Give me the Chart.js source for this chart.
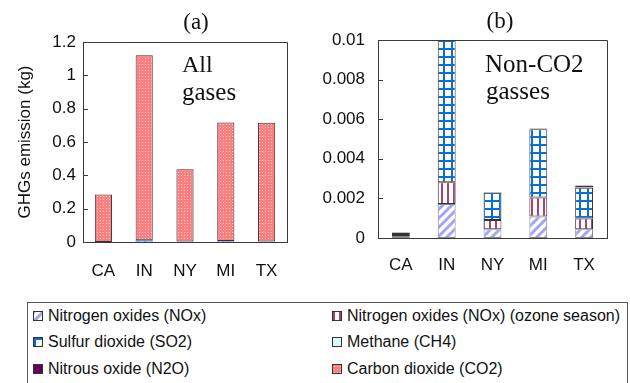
<!DOCTYPE html>
<html>
<head>
<meta charset="utf-8">
<script src="https://cdn.jsdelivr.net/npm/chart.js@4"></script>
<style>
  body { margin: 0; background: #fff; width: 630px; height: 383px; overflow: hidden; position: relative; font-family: "Liberation Sans", Arial, sans-serif; }
  #boxA { position: absolute; left: 0; top: 0; width: 315px; height: 290px; }
  #boxB { position: absolute; left: 315px; top: 0; width: 315px; height: 290px; }
  #legend { position: absolute; left: 27px; top: 302px; width: 599px; height: 100px; border: 1px solid #555; }
  .item { position: absolute; display: flex; align-items: center; font-size: 16px; color: #111; white-space: nowrap; height: 18px; }
  .item canvas { border: 1px solid #333; margin-right: 5px; }
</style>
</head>
<body>
<div id="boxA"><canvas id="chartA" width="315" height="290"></canvas></div>
<div id="boxB"><canvas id="chartB" width="315" height="290"></canvas></div>
<div id="legend"></div>
<script>
// data (kg)
const states = ["CA", "IN", "NY", "MI", "TX"];
const gasNames = [
  "Nitrogen oxides (NOx)",
  "Nitrogen oxides (NOx) (ozone season)",
  "Sulfur dioxide (SO2)",
  "Methane (CH4)",
  "Nitrous oxide (N2O)",
  "Carbon dioxide (CO2)",
];
const nox = [0.0001, 0.00172, 0.00044, 0.00108, 0.00044];
const noxOzone = [0.0001, 0.00109, 0.00047, 0.00097, 0.00055];
const so2 = [0.00008, 0.0072, 0.00138, 0.00344, 0.00155];
const ch4 = [0.000005, 0.00002, 0.00001, 0.00002, 0.00001];
const n2o = [0.00001, 0.00002, 0.00002, 0.00002, 0.0001];
const co2 = [0.285, 1.11, 0.434, 0.711, 0.713];

const yLabelsA = ["0", "0.2", "0.4", "0.6", "0.8", "1", "1.2"];
const yLabelsB = ["0", "0.002", "0.004", "0.006", "0.008", "0.01"];

// fill patterns
function makePattern(size, draw) {
  const c = document.createElement("canvas");
  c.width = size; c.height = size;
  const g = c.getContext("2d");
  draw(g, size);
  return g.createPattern(c, "repeat");
}
const noxFill = makePattern(9, (g, s) => {
  g.fillStyle = "#fff"; g.fillRect(0, 0, s, s);
  g.strokeStyle = "#a3a3f7"; g.lineWidth = 3;
  g.beginPath();
  g.moveTo(-1, s + 1); g.lineTo(s + 1, -1);
  g.moveTo(-2, 2); g.lineTo(2, -2);
  g.moveTo(s - 2, s + 2); g.lineTo(s + 2, s - 2);
  g.stroke();
});
const ozoneFill = makePattern(6, (g, s) => {
  g.fillStyle = "#fff"; g.fillRect(0, 0, s, s);
  g.fillStyle = "#a8426e"; g.fillRect(0, 0, 2, s);
});
const so2Fill = makePattern(8, (g, s) => {
  g.fillStyle = "#0a6fd0"; g.fillRect(0, 0, s, s);
  g.fillStyle = "#fff"; g.fillRect(2, 2, 6, 6);
});
const ch4Fill = "#d8fafa";
const n2oFill = "#66005f";
const co2Fill = makePattern(3, (g, s) => {
  g.fillStyle = "#ff7d7d"; g.fillRect(0, 0, s, s);
  g.fillStyle = "#ffd6d6"; g.fillRect(1, 1, 1, 1);
});

const fills = [noxFill, ozoneFill, so2Fill, ch4Fill, n2oFill, co2Fill];
const borders = ["#888", "#333", "#333", "#777", "#333", "#333"];
const series = [nox, noxOzone, so2, ch4, n2o, co2];

function buildSets(count, barPct, thinOnly) {
  return series.slice(0, count).map((vals, i) => ({
    label: gasNames[i],
    data: vals,
    backgroundColor: fills[i],
    borderColor: borders[i],
    // in the all-gas panel only the CO2 bar keeps an outline
    borderWidth: thinOnly && i < 5 ? 0 : 1,
    borderSkipped: false,
    barPercentage: barPct,
    categoryPercentage: 1,
  }));
}

// frame, inward ticks and free text
const decor = {
  id: "decor",
  afterDraw(chart, args, opts) {
    const { ctx, chartArea: a, scales } = chart;
    const y = scales.y;
    ctx.save();
    ctx.strokeStyle = "#3a3a3a";
    ctx.lineWidth = 1;
    ctx.beginPath();
    ctx.rect(Math.round(a.left) + 0.5, Math.round(a.top) + 0.5,
      Math.round(a.right - a.left), Math.round(a.bottom - a.top));
    y.ticks.forEach((t, i) => {
      const py = Math.round(y.getPixelForTick(i)) + 0.5;
      ctx.moveTo(a.left, py);
      ctx.lineTo(a.left + 5, py);
    });
    ctx.stroke();
    ctx.fillStyle = "#111";
    ctx.textBaseline = "alphabetic";
    (opts.texts || []).forEach(t => {
      ctx.font = t.font;
      ctx.textAlign = t.align || "left";
      ctx.fillText(t.text, t.x, t.y);
    });
    ctx.restore();
  }
};

const serif = '"Liberation Serif", "Times New Roman", serif';
const sans = '"Liberation Sans", Arial, sans-serif';

function makeChart(id, cfg) {
  return new Chart(document.getElementById(id), {
    type: "bar",
    data: { labels: states, datasets: buildSets(cfg.count, cfg.barPct, cfg.thinOnly) },
    plugins: [decor],
    options: {
      responsive: false,
      animation: false,
      layout: { padding: { top: cfg.top, right: cfg.right, left: 0, bottom: 0 } },
      plugins: {
        legend: { display: false },
        tooltip: { enabled: false },
        decor: { texts: cfg.texts },
      },
      scales: {
        x: {
          stacked: true,
          grid: { display: false, drawTicks: false },
          border: { color: "#3a3a3a" },
          ticks: { color: "#111", font: { family: sans, size: 17 }, padding: cfg.xPad },
          afterFit: s => { s.height = cfg.xHeight; },
        },
        y: {
          stacked: true,
          min: 0,
          max: cfg.max,
          grid: { display: false, drawTicks: false },
          border: { color: "#3a3a3a" },
          ticks: {
            stepSize: cfg.step,
            color: "#111",
            font: { family: sans, size: 17 },
            padding: cfg.yPad,
            callback: (v, i) => cfg.yLabels[i],
          },
          title: cfg.yTitle ? {
            display: true, text: cfg.yTitle, color: "#111",
            font: { family: sans, size: 17 }, padding: { top: 15, bottom: 0 },
          } : { display: false },
          afterFit: s => { s.width = cfg.yWidth; },
        },
      },
    },
  });
}

makeChart("chartA", {
  count: 6, barPct: 0.42, thinOnly: true, top: 42, right: 28, max: 1.2, step: 0.2,
  yLabels: yLabelsA, yTitle: "GHGs emission (kg)", yWidth: 83, yPad: 7,
  xHeight: 48, xPad: 19,
  texts: [
    { text: "(a)", x: 196, y: 29, font: "23px " + serif, align: "center" },
    { text: "All", x: 182, y: 72, font: "24px " + serif },
    { text: "gases", x: 182, y: 100, font: "25px " + serif },
  ],
});

makeChart("chartB", {
  count: 5, barPct: 0.39, thinOnly: false, top: 40, right: 23, max: 0.01, step: 0.002,
  yLabels: yLabelsB, yTitle: null, yWidth: 63, yPad: 13,
  xHeight: 52, xPad: 17,
  texts: [
    { text: "(b)", x: 185, y: 28, font: "23px " + serif, align: "center" },
    { text: "Non-CO2", x: 170, y: 72, font: "25px " + serif },
    { text: "gasses", x: 171, y: 99, font: "25px " + serif },
  ],
});

// legend in two columns
const legendCols = [5, 304];
const legendRows = [4, 30, 57];
const legendBox = document.getElementById("legend");
gasNames.forEach((name, i) => {
  const item = document.createElement("div");
  item.className = "item";
  item.style.left = legendCols[i % 2] + "px";
  item.style.top = legendRows[Math.floor(i / 2)] + "px";
  const sw = document.createElement("canvas");
  sw.width = 8; sw.height = 8;
  const g = sw.getContext("2d");
  g.fillStyle = fills[i];
  g.fillRect(0, 0, 8, 8);
  item.appendChild(sw);
  const span = document.createElement("span");
  span.textContent = name;
  item.appendChild(span);
  legendBox.appendChild(item);
});
</script>
</body>
</html>
